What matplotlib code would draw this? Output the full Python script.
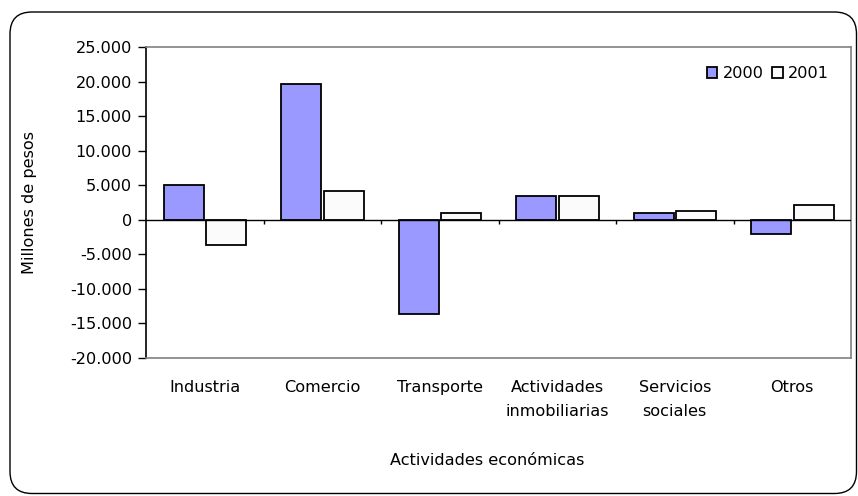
import matplotlib.pyplot as plt, numpy as np
from matplotlib.patches import FancyBboxPatch
from matplotlib.ticker import FuncFormatter

# datos (millones de pesos)
categorias = ["Industria", "Comercio", "Transporte", "Actividades\ninmobiliarias",
              "Servicios\nsociales", "Otros"]
v2000 = [5050, 19700, -13600, 3500, 1000, -2000]
v2001 = [-3600, 4100, 1000, 3500, 1200, 2200]
ticks_y = [-20000, -15000, -10000, -5000, 0, 5000, 10000, 15000, 20000, 25000]

plt.rcParams['font.family'] = ['DejaVu Sans']
plt.rcParams['font.size'] = 11.6

fig = plt.figure(figsize=(8.58, 4.96), dpi=100)
ax = fig.add_axes([146/858, 1-358/496, (851-146)/858, (358-47)/496])

# marco redondeado exterior
caja = FancyBboxPatch((0.10, 0.025), 8.465, 4.815, boxstyle="round,pad=0,rounding_size=0.22",
                      transform=fig.dpi_scale_trans, fill=False, edgecolor='black',
                      linewidth=1.0, zorder=0)
fig.patches.append(caja)

x = np.arange(len(categorias))
w = 0.34
ax.bar(x - 0.177, v2000, w, color='#9999FF', edgecolor='black', linewidth=1.3, label='2000', zorder=3)
ax.bar(x + 0.182, v2001, w, color='#FBFBFB', edgecolor='black', linewidth=1.3, label='2001', zorder=3)

ax.set_xlim(-0.5, len(categorias) - 0.5)
ax.set_ylim(-20000, 25000)
ax.set_yticks(ticks_y)
ax.yaxis.set_major_formatter(FuncFormatter(lambda v, p: f"{int(v):,}".replace(",", ".")))
ax.tick_params(axis='y', direction='out', length=6, width=1, pad=4)

ax.set_xticks(x)
ax.set_xticklabels(categorias, linespacing=1.75)
ax.tick_params(axis='x', length=0, pad=16)

# línea del cero y marcas entre categorías
ax.axhline(0, color='black', linewidth=1, zorder=4)
ax.vlines(np.arange(0.5, len(categorias) - 0.5, 1), -650, 0, color='black', linewidth=1, zorder=4)

for s in ['top', 'right', 'bottom']:
    ax.spines[s].set_color('#808080')
    ax.spines[s].set_linewidth(1.2)
ax.spines['left'].set_color('black')
ax.spines['left'].set_linewidth(1.2)

ax.set_ylabel("Millones de pesos")
ax.yaxis.set_label_coords(-0.155, 0.5)
ax.set_xlabel("Actividades económicas")
ax.xaxis.set_label_coords((487-146)/705, -0.305)

ax.legend(loc='upper right', bbox_to_anchor=(0.985, 0.975), ncol=2, frameon=False,
          handlelength=0.65, handleheight=0.65, handletextpad=0.35, columnspacing=0.5,
          borderaxespad=0.3)

fig.savefig("out.png", dpi=100)
